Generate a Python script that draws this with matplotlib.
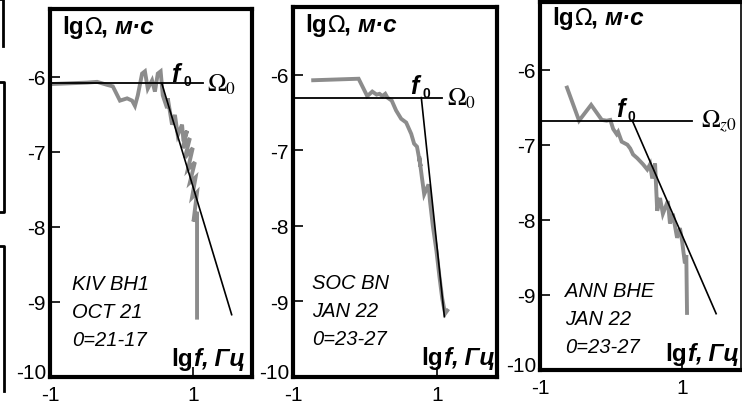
import matplotlib
matplotlib.use('Agg')
import matplotlib.pyplot as plt
from matplotlib import font_manager
from matplotlib.lines import Line2D
from matplotlib.offsetbox import TextArea, HPacker, AnchoredOffsetbox

plt.rcParams['axes.unicode_minus'] = False

_names = {f.name for f in font_manager.fontManager.ttflist}
NARROW = 'Liberation Sans Narrow' if 'Liberation Sans Narrow' in _names else 'Liberation Sans'
SANS = 'Liberation Sans'

# ── Data (lg f, lg Omega) ─────────────────────────────────────────
# KIV BH1
x1 = [-1.0, -0.48, -0.34, -0.20, -0.12, -0.02, 0.08, 0.15, 0.19, 0.23, 0.29, 0.33,
      0.37, 0.43, 0.47, 0.51, 0.55, 0.58, 0.64, 0.65, 0.71, 0.75, 0.79, 0.85, 0.87,
      0.92, 0.86, 0.96, 0.89, 1.00, 0.93, 1.03, 0.96, 1.04, 0.99, 1.06, 1.01, 1.06, 1.06]
y1 = [-6.10, -6.08, -6.07, -6.11, -6.13, -6.32, -6.29, -6.32, -6.39, -6.25, -5.96, -5.93,
      -6.16, -6.05, -6.20, -5.96, -5.93, -6.25, -6.42, -6.29, -6.64, -6.51, -6.78, -6.64, -6.86,
      -6.72, -6.95, -6.82, -7.08, -6.95, -7.24, -7.14, -7.41, -7.34, -7.61, -7.54, -7.93, -7.80, -9.21]

# SOC BN
x2 = [-0.72, -0.09, 0.03, 0.10, 0.16, 0.20, 0.24, 0.28, 0.31, 0.37, 0.43, 0.50, 0.57,
      0.64, 0.68, 0.72, 0.77, 0.75, 0.79, 0.82, 0.88, 0.90, 0.94, 0.99, 1.03, 1.07, 1.11, 1.14]
y2 = [-6.07, -6.05, -6.28, -6.22, -6.26, -6.25, -6.28, -6.25, -6.30, -6.34, -6.47, -6.58, -6.63,
      -6.78, -6.91, -6.95, -7.21, -7.08, -7.37, -7.58, -7.45, -7.67, -8.00, -8.33, -8.66, -8.96, -9.16, -9.12]

# ANN BHE
x3 = [-0.62, -0.45, -0.28, -0.13, -0.06, -0.01, 0.03, 0.08, 0.10, 0.15, 0.23, 0.27, 0.31,
      0.37, 0.41, 0.45, 0.51, 0.55, 0.58, 0.62, 0.65, 0.69, 0.73, 0.80, 0.83, 0.87, 0.93,
      0.97, 1.00, 1.04, 1.06, 1.07]
y3 = [-6.24, -6.68, -6.47, -6.67, -6.68, -6.67, -6.79, -6.86, -6.83, -6.96, -7.00, -7.05, -7.13,
      -7.18, -7.22, -7.26, -7.33, -7.26, -7.45, -7.25, -7.88, -7.71, -7.92, -7.75, -8.05, -7.92, -8.24,
      -8.11, -8.28, -8.58, -8.47, -9.24]

# plateau level and its right end, corner-frequency slope line
omega0 = [-6.09, -6.30, -6.68]
omega_end = [1.14, 1.07, 1.14]
slope_x = [(0.566, 1.545), (0.78, 1.10), (0.30, 1.48)]
slope_y = [(-6.09, -9.17), (-6.30, -9.20), (-6.68, -9.25)]
omega_lbl = [r'$\Omega_0$', r'$\Omega_0$', r'$\Omega_{z0}$']
f0_pos = [(0.70, -6.06), (0.63, -6.24), (0.07, -6.62)]

y_ticks = [-9, -8, -7, -6]
x_ticks = [-1, 1]

stations = [['KIV BH1', 'OCT 21', '0=21-17'],
            ['SOC BN', 'JAN 22', '0=23-27'],
            ['ANN BHE', 'JAN 22', '0=23-27']]
curves = [(x1, y1), (x2, y2), (x3, y3)]

# ── Layout (pixels of a 742x410 picture) ─────────────────────────
W, H = 742, 410
boxes = [(50, 378, 202, 368), (293, 378, 204, 370), (540, 371, 201, 368)]  # left, bottom, w, h
st_x = [0.11, 0.093, 0.124]
st_top = [0.255, 0.255, 0.215]
gap = [0.06, 0.06, 0.13]
lab_bottom = [0.018, 0.022, 0.014]
lab_right = [0.965, 0.99, 0.99]
lab_top = [0.985, 0.985, 0.99]

GRAY = '#8c8c8c'

fig = plt.figure(figsize=(W / 100, H / 100), dpi=100)


def rich(ax, parts, loc, xy):
    areas = [TextArea(s, textprops=p) for s, p in parts]
    pack = HPacker(children=areas, align='baseline', pad=0, sep=0)
    ab = AnchoredOffsetbox(loc=loc, child=pack, pad=0, borderpad=0, frameon=False,
                           bbox_to_anchor=xy, bbox_transform=ax.transAxes)
    ax.add_artist(ab)


bold = dict(family=SANS, weight='bold', size=17.5)
bold_it = dict(family=SANS, weight='bold', style='italic', size=17.5)
omega_p = dict(family='DejaVu Sans', size=16.5)

for i, (l, b, w, h) in enumerate(boxes):
    ax = fig.add_axes([l / W, (H - b) / H, w / W, h / H])
    ax.set_xlim(-1, 1.83)
    ax.set_ylim(-10, -5.1)
    for s in ax.spines.values():
        s.set_linewidth(3)
    if i == 2:
        ax.spines['right'].set_linewidth(1.2)

    ax.set_xticks(x_ticks)
    ax.set_yticks(y_ticks)
    ax.set_xticklabels([str(v) for v in x_ticks])
    ax.set_yticklabels([str(v) for v in y_ticks])
    ax.tick_params(direction='in', length=7, width=1.2, labelsize=15, pad=3)
    ax.tick_params(axis='x', pad=6)
    for t in ax.get_xticklabels() + ax.get_yticklabels():
        t.set_family(NARROW)
    # bottom-left value of the y axis, sits just above the corner
    ax.text(-0.018, 0.012, '-10', transform=ax.transAxes, ha='right', va='center',
            fontsize=15, family=NARROW)

    # spectrum
    xs, ys = curves[i]
    ax.plot(xs, ys, color=GRAY, lw=2.8, solid_joinstyle='miter', zorder=2)
    # plateau and high-frequency asymptote
    ax.plot([-1, omega_end[i]], [omega0[i], omega0[i]], color='black', lw=1.3, zorder=3)
    ax.plot(slope_x[i], slope_y[i], color='black', lw=1.2, zorder=3)

    ax.text(omega_end[i] + gap[i], omega0[i], omega_lbl[i], va='center', ha='left',
            fontsize=18, math_fontfamily='stix')
    fx, fy = f0_pos[i]
    ax.text(fx, fy, 'f', fontsize=18, weight='bold', style='italic', family=SANS,
            va='baseline', ha='left')
    ax.annotate('0', xy=(fx, fy), xytext=(8.5, -3), textcoords='offset points',
                fontsize=10, weight='bold', family=SANS, va='baseline', ha='left')

    for k, line in enumerate(stations[i]):
        ax.text(st_x[i], st_top[i] - k * 0.076, line,
                transform=ax.transAxes, fontsize=14.5, style='italic', family=NARROW,
                va='center', ha='left')

    rich(ax, [('lg', bold), ('\u03a9', omega_p), (', ', bold), ('м·с', bold_it)],
         'upper left', (0.06, lab_top[i]))
    rich(ax, [('lg', bold), ('f', bold_it), (', Гц', bold_it)],
         'lower right', (lab_right[i], lab_bottom[i]))

# fragments of the neighbouring (cropped) figure at the left edge
for xs_, ys_ in [([0, 3, 3], [0, 0, 47]), ([0, 4, 4, 0], [83, 83, 213, 213]), ([0, 4, 4], [247, 247, 392])]:
    fig.add_artist(Line2D([v / W for v in xs_], [1 - v / H for v in ys_],
                          transform=fig.transFigure, color='black', lw=2))

fig.savefig('out.png', dpi=100)
